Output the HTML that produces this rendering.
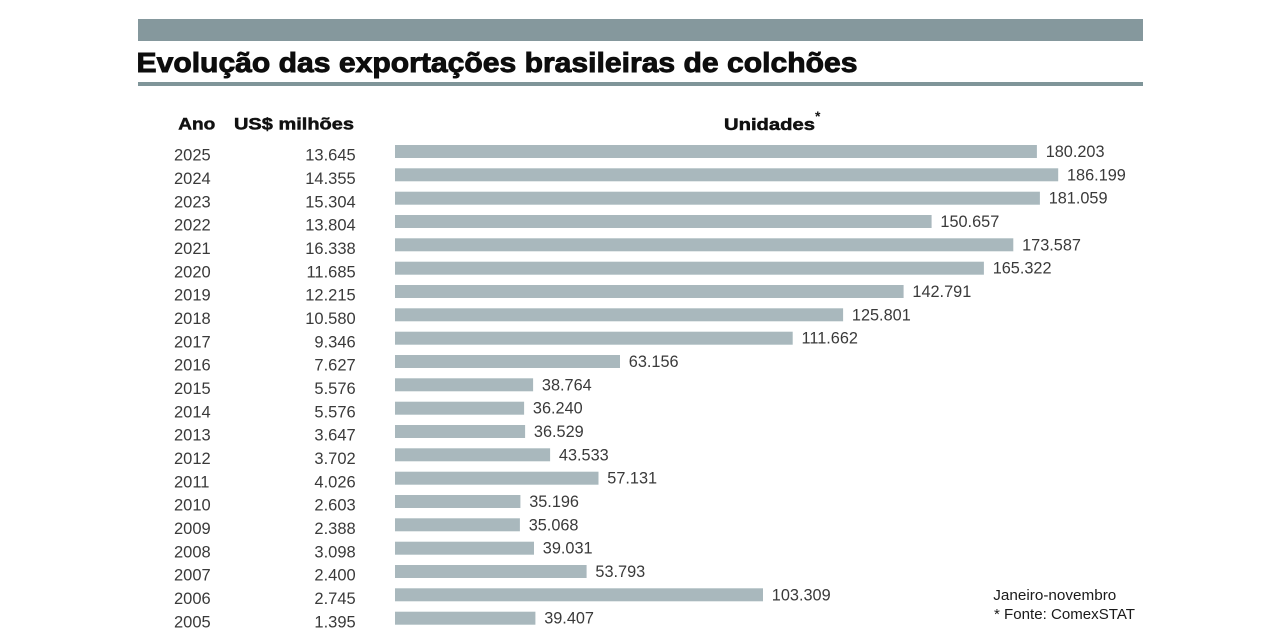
<!DOCTYPE html>
<html>
<head>
<meta charset="utf-8">
<style>
  html,body{margin:0;padding:0;background:#fff;}
  svg{display:block;}
  text{font-family:"Liberation Sans", Arial, sans-serif;}
</style>
</head>
<body>
<svg width="1280" height="640" viewBox="0 0 1280 640" xmlns="http://www.w3.org/2000/svg">
  <rect x="0" y="0" width="1280" height="640" fill="#ffffff"/>
  <!-- top band -->
  <rect x="138" y="19" width="1005" height="22" fill="#85989d"/>
  <!-- title -->
  <text x="136.5" y="72" font-size="28" font-weight="bold" fill="#0d0d0d" stroke="#0d0d0d" stroke-width="0.9" textLength="721" lengthAdjust="spacingAndGlyphs">Evolução das exportações brasileiras de colchões</text>
  <!-- rule under title -->
  <rect x="138" y="82" width="1005" height="4" fill="#7f9599"/>

  <!-- headers -->
  <text x="178.3" y="129.5" font-size="17" font-weight="bold" fill="#111" stroke="#111" stroke-width="0.5" textLength="37" lengthAdjust="spacingAndGlyphs">Ano</text>
  <text x="234" y="129.5" font-size="17" font-weight="bold" fill="#111" stroke="#111" stroke-width="0.5" textLength="120" lengthAdjust="spacingAndGlyphs">US$ milhões</text>
  <text x="724" y="130" font-size="17" font-weight="bold" fill="#111" stroke="#111" stroke-width="0.5" textLength="91" lengthAdjust="spacingAndGlyphs">Unidades</text>
  <text x="815" y="121" font-size="14" font-weight="bold" fill="#111">*</text>

  <g fill="#a9b8bd">
    <rect x="395" y="145.0" width="641.9" height="13"/>
    <rect x="395" y="168.3" width="663.2" height="13"/>
    <rect x="395" y="191.7" width="644.9" height="13"/>
    <rect x="395" y="215.0" width="536.6" height="13"/>
    <rect x="395" y="238.3" width="618.3" height="13"/>
    <rect x="395" y="261.7" width="588.9" height="13"/>
    <rect x="395" y="285.0" width="508.6" height="13"/>
    <rect x="395" y="308.3" width="448.1" height="13"/>
    <rect x="395" y="331.7" width="397.7" height="13"/>
    <rect x="395" y="355.0" width="225.0" height="13"/>
    <rect x="395" y="378.3" width="138.1" height="13"/>
    <rect x="395" y="401.7" width="129.1" height="13"/>
    <rect x="395" y="425.0" width="130.1" height="13"/>
    <rect x="395" y="448.3" width="155.1" height="13"/>
    <rect x="395" y="471.7" width="203.5" height="13"/>
    <rect x="395" y="495.0" width="125.4" height="13"/>
    <rect x="395" y="518.3" width="124.9" height="13"/>
    <rect x="395" y="541.7" width="139.0" height="13"/>
    <rect x="395" y="565.0" width="191.6" height="13"/>
    <rect x="395" y="588.3" width="368.0" height="13"/>
    <rect x="395" y="611.7" width="140.4" height="13"/>
  </g>

  <!-- years -->
  <g font-size="16.5" fill="#3a3a3a">
    <text x="174" y="160.7">2025</text>
    <text x="174" y="184.0">2024</text>
    <text x="174" y="207.4">2023</text>
    <text x="174" y="230.7">2022</text>
    <text x="174" y="254.0">2021</text>
    <text x="174" y="277.4">2020</text>
    <text x="174" y="300.7">2019</text>
    <text x="174" y="324.0">2018</text>
    <text x="174" y="347.4">2017</text>
    <text x="174" y="370.7">2016</text>
    <text x="174" y="394.0">2015</text>
    <text x="174" y="417.4">2014</text>
    <text x="174" y="440.7">2013</text>
    <text x="174" y="464.0">2012</text>
    <text x="174" y="487.4">2011</text>
    <text x="174" y="510.7">2010</text>
    <text x="174" y="534.0">2009</text>
    <text x="174" y="557.4">2008</text>
    <text x="174" y="580.7">2007</text>
    <text x="174" y="604.0">2006</text>
    <text x="174" y="627.4">2005</text>
  </g>

  <!-- US$ values -->
  <g font-size="16.5" fill="#3a3a3a" text-anchor="end">
    <text x="355.7" y="160.7">13.645</text>
    <text x="355.7" y="184.0">14.355</text>
    <text x="355.7" y="207.4">15.304</text>
    <text x="355.7" y="230.7">13.804</text>
    <text x="355.7" y="254.0">16.338</text>
    <text x="355.7" y="277.4">11.685</text>
    <text x="355.7" y="300.7">12.215</text>
    <text x="355.7" y="324.0">10.580</text>
    <text x="355.7" y="347.4">9.346</text>
    <text x="355.7" y="370.7">7.627</text>
    <text x="355.7" y="394.0">5.576</text>
    <text x="355.7" y="417.4">5.576</text>
    <text x="355.7" y="440.7">3.647</text>
    <text x="355.7" y="464.0">3.702</text>
    <text x="355.7" y="487.4">4.026</text>
    <text x="355.7" y="510.7">2.603</text>
    <text x="355.7" y="534.0">2.388</text>
    <text x="355.7" y="557.4">3.098</text>
    <text x="355.7" y="580.7">2.400</text>
    <text x="355.7" y="604.0">2.745</text>
    <text x="355.7" y="627.4">1.395</text>
  </g>

  <!-- bar labels -->
  <g font-size="16.3" fill="#3a3a3a">
    <text x="1045.7" y="157.0">180.203</text>
    <text x="1067.0" y="180.3">186.199</text>
    <text x="1048.7" y="203.7">181.059</text>
    <text x="940.4" y="227.0">150.657</text>
    <text x="1022.1" y="250.3">173.587</text>
    <text x="992.7" y="273.7">165.322</text>
    <text x="912.4" y="297.0">142.791</text>
    <text x="851.9" y="320.3">125.801</text>
    <text x="801.5" y="343.7">111.662</text>
    <text x="628.8" y="367.0">63.156</text>
    <text x="541.9" y="390.3">38.764</text>
    <text x="532.9" y="413.7">36.240</text>
    <text x="533.9" y="437.0">36.529</text>
    <text x="558.9" y="460.3">43.533</text>
    <text x="607.3" y="483.7">57.131</text>
    <text x="529.2" y="507.0">35.196</text>
    <text x="528.7" y="530.3">35.068</text>
    <text x="542.8" y="553.7">39.031</text>
    <text x="595.4" y="577.0">53.793</text>
    <text x="771.8" y="600.3">103.309</text>
    <text x="544.2" y="623.7">39.407</text>
  </g>

  <!-- footer notes -->
  <text x="993.3" y="600" font-size="14.5" fill="#1a1a1a" textLength="123" lengthAdjust="spacingAndGlyphs">Janeiro-novembro</text>
  <text x="994" y="619" font-size="14.5" fill="#1a1a1a" textLength="141" lengthAdjust="spacingAndGlyphs">* Fonte: ComexSTAT</text>
</svg>
</body>
</html>
